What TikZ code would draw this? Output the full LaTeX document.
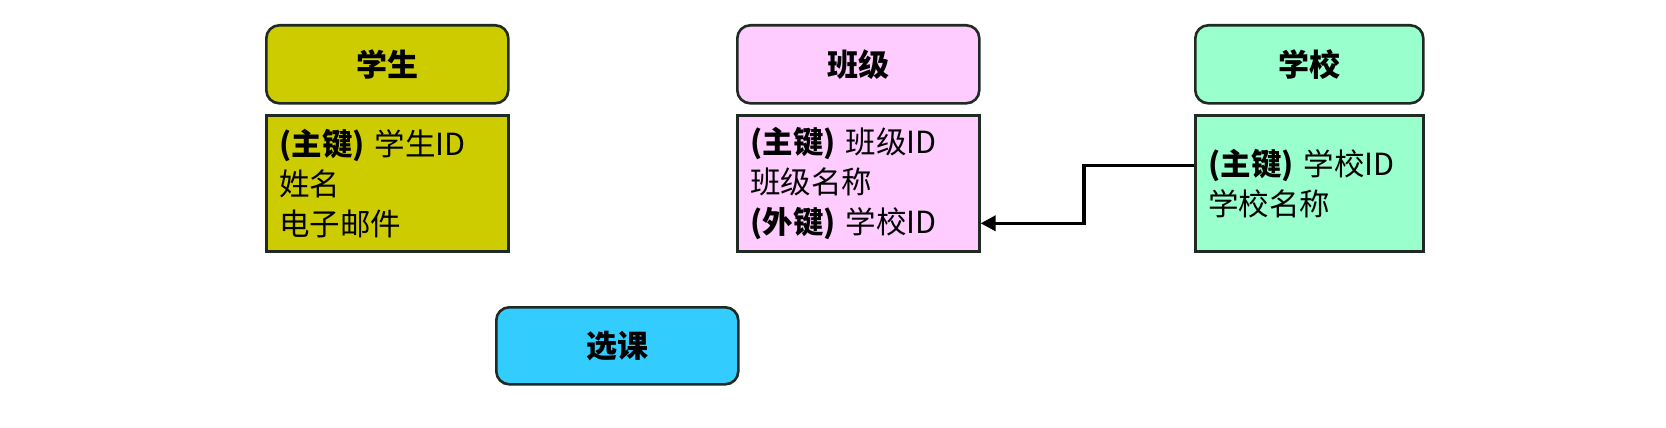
\documentclass[tikz,border=0pt]{standalone}
\usepackage{fontspec}
\setmainfont{Noto Sans CJK SC}
\usetikzlibrary{arrows.meta}
\definecolor{cStu}{HTML}{CCCC00}
\definecolor{cCls}{HTML}{FFCCFF}
\definecolor{cSch}{HTML}{99FFCC}
\definecolor{cSel}{HTML}{33CCFF}
\definecolor{edge}{HTML}{1E2A22}
\tikzset{
  hdr/.style={draw=edge, line width=2.6pt, rounded corners=13pt, minimum height=78pt,
    anchor=north west, font=\fontsize{31}{36}\selectfont\bfseries, inner sep=0pt},
  bodybox/.style={draw=edge, line width=2.6pt, minimum height=136pt, anchor=north west,
    align=left, inner xsep=13pt, inner ysep=0pt, font=\fontsize{30.5}{40}\selectfont},
  conn/.style={line width=3.6pt, -{Triangle[length=15pt,width=15pt]}},
}
\begin{document}
\begin{tikzpicture}[x=1pt,y=-1pt]
\useasboundingbox (0,0) rectangle (1666,428);
\node[hdr, fill=cStu, minimum width=242pt] (stuH) at (265,24) {学生};
\node[bodybox, fill=cStu, text width=216pt] (stuB) at (265,114)
  {\textbf{(主键)} 学生ID\\姓名\\电子邮件};
\node[hdr, fill=cCls, minimum width=242pt] (clsH) at (736,24) {班级};
\node[bodybox, fill=cCls, text width=216pt] (clsB) at (736,114)
  {\textbf{(主键)} 班级ID\\班级名称\\\textbf{(外键)} 学校ID};
\node[hdr, fill=cSch, minimum width=228pt] (schH) at (1194,24) {学校};
\node[bodybox, fill=cSch, text width=202pt] (schB) at (1194,114)
  {\textbf{(主键)} 学校ID\\学校名称};
\node[hdr, fill=cSel, minimum width=242pt, minimum height=77pt] (selH) at (495,306) {选课};
\draw[conn] ([yshift=18pt]schB.west) -- ++(-110,0) |- ([yshift=-40pt]clsB.east);
\end{tikzpicture}
\end{document}
